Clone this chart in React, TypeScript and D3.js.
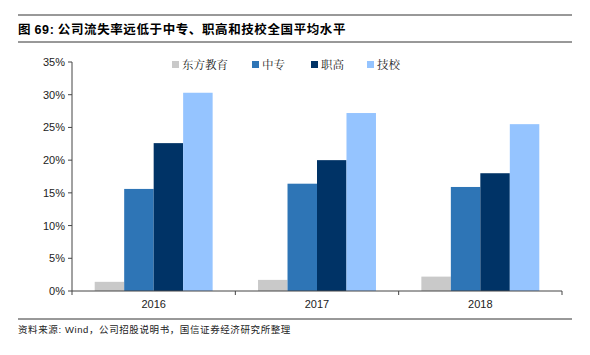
import React from "react";
import * as d3 from "d3";

const categories = ["2016", "2017", "2018"];
const seriesNames = ["东方教育", "中专", "职高", "技校"];
const seriesColors = ["#c9c9c9", "#2e75b6", "#003366", "#95c4ff"];
const dongfang = [1.4, 1.7, 2.2];
const zhongzhuan = [15.6, 16.4, 15.9];
const zhigao = [22.6, 20.0, 18.0];
const jixiao = [30.3, 27.2, 25.5];
const yTicks = [0, 5, 10, 15, 20, 25, 30, 35];

const seriesValues = [dongfang, zhongzhuan, zhigao, jixiao];

export default function App() {
  const W = 590, H = 355;
  const left = 72, right = 562, top = 62, bottom = 291;
  const x0 = d3.scaleBand().domain(categories).range([left, right]).paddingInner(0).paddingOuter(0);
  const x1 = d3.scaleBand().domain(seriesNames).range([0, x0.bandwidth()]).paddingInner(0).paddingOuter(0.77);
  const y = d3.scaleLinear().domain([0, 35]).range([bottom, top]);
  const cjk = "'Noto Sans CJK SC', sans-serif";
  const latin = "'Liberation Sans', Arial, sans-serif";
  const legendX = [172, 252, 311, 367];

  return (
    <svg width={W} height={H} style={{ position: "absolute", left: 0, top: 0, background: "#fff" }}>
      <line x1={18} x2={572} y1={15} y2={15} stroke="#333" strokeWidth={1} />
      <text x={18} y={34} fontFamily={cjk} fontSize={12.5} fontWeight="bold" fill="#000" letterSpacing={0.6}>
        图 <tspan fontFamily={latin}>69:</tspan> 公司流失率远低于中专、职高和技校全国平均水平
      </text>
      <line x1={18} x2={572} y1={42} y2={42} stroke="#333" strokeWidth={1} />

      {seriesNames.map((s, i) => (
        <g key={s}>
          <rect x={legendX[i]} y={61} width={7} height={7} fill={seriesColors[i]} />
          <text x={legendX[i] + 10} y={69} fontFamily={"'Noto Serif CJK SC', 'Noto Sans CJK SC', serif"} fontSize={11.5} fill="#222">{s}</text>
        </g>
      ))}

      {categories.map((c, ci) => (
        <g key={c} transform={`translate(${x0(c)},0)`}>
          {seriesNames.map((s, si) => {
            const v = seriesValues[si][ci];
            return (
              <rect key={s} x={x1(s)} y={y(v)} width={x1.bandwidth()} height={bottom - y(v)} fill={seriesColors[si]} />
            );
          })}
        </g>
      ))}

      <line x1={left} x2={left} y1={top} y2={bottom} stroke="#444" strokeWidth={1} />
      {yTicks.map((t) => (
        <g key={t}>
          <line x1={left - 4} x2={left} y1={y(t)} y2={y(t)} stroke="#444" />
          <text x={left - 7} y={y(t) + 4} textAnchor="end" fontFamily={latin} fontSize={11} fill="#222">{t}%</text>
        </g>
      ))}
      <line x1={left} x2={right} y1={bottom} y2={bottom} stroke="#444" strokeWidth={1} />
      {[...categories.map((c) => x0(c) as number), right].map((xx, i) => (
        <line key={i} x1={xx} x2={xx} y1={bottom} y2={bottom + 4} stroke="#444" />
      ))}
      {categories.map((c) => (
        <text key={c} x={(x0(c) as number) + x0.bandwidth() / 2} y={308} textAnchor="middle" fontFamily={latin} fontSize={11} fill="#222">{c}</text>
      ))}

      <line x1={18} x2={572} y1={319} y2={319} stroke="#333" strokeWidth={1} />
      <text x={18} y={333} fontFamily={cjk} fontSize={9.5} fill="#222" letterSpacing={0.6}>
        资料来源<tspan fontFamily={latin}>: Wind</tspan>，公司招股说明书，国信证券经济研究所整理
      </text>
    </svg>
  );
}
